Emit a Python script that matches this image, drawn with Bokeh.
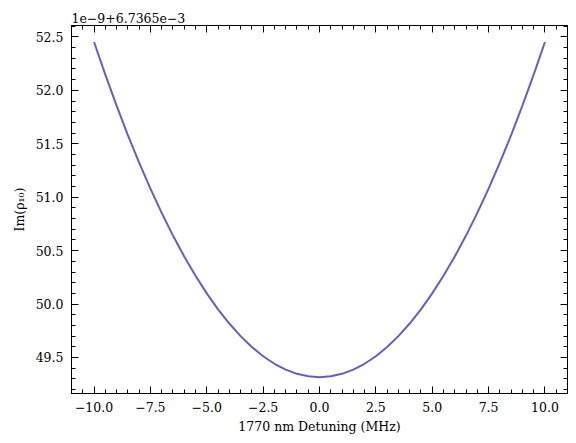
from bokeh.plotting import figure
from bokeh.models import (LinearAxis, SingleIntervalTicker, CustomJSTickFormatter,
                          Range1d, ColumnDataSource)
from bokeh.embed import file_html
from bokeh.resources import INLINE

# Data; y is shown relative to offset 6.7365e-3, in units of 1e-9
detuning = [-10.0, -9.5, -9.0, -8.5, -8.0, -7.5, -7.0, -6.5, -6.0, -5.5, -5.0,
            -4.5, -4.0, -3.5, -3.0, -2.5, -2.0, -1.5, -1.0, -0.5, 0.0,
            0.5, 1.0, 1.5, 2.0, 2.5, 3.0, 3.5, 4.0, 4.5, 5.0,
            5.5, 6.0, 6.5, 7.0, 7.5, 8.0, 8.5, 9.0, 9.5, 10.0]
im_rho10 = [52.453, 52.147, 51.857, 51.582, 51.324, 51.081, 50.853, 50.641, 50.445, 50.265, 50.100,
            49.951, 49.818, 49.700, 49.598, 49.512, 49.441, 49.387, 49.347, 49.324, 49.316,
            49.324, 49.347, 49.387, 49.441, 49.512, 49.598, 49.700, 49.818, 49.951, 50.100,
            50.265, 50.445, 50.641, 50.853, 51.081, 51.324, 51.582, 51.857, 52.147, 52.453]
offset_text = "1e\u22129+6.7365e\u22123"
x_label = "1770 nm Detuning (MHz)"
y_label = "Im(\u03c1\u2081\u2080)"

FONT = "DejaVu Serif"
FS = "12.5px"

p = figure(width=576, height=443, output_backend="svg", toolbar_location=None,
           x_range=Range1d(-11, 11), y_range=Range1d(49.163, 52.607),
           x_axis_location=None, y_axis_location=None,
           min_border_left=71, min_border_right=9, min_border_top=25, min_border_bottom=50)
p.xgrid.visible = False
p.ygrid.visible = False
p.outline_line_color = "black"
p.outline_line_width = 1
p.background_fill_color = "white"
p.border_fill_color = "white"

p.title.text = offset_text
p.title.align = "left"
p.title.text_font = FONT
p.title.text_font_size = FS
p.title.text_font_style = "normal"
p.title.text_color = "black"
p.title.standoff = 5
p.title.offset = 0

src = ColumnDataSource(dict(x=detuning, y=im_rho10))
p.line("x", "y", source=src, line_color="#6a5acd", line_width=2)

fmt = CustomJSTickFormatter(code="return tick.toFixed(1).replace('-', '\\u2212');")
blank = CustomJSTickFormatter(code="return '';")

def style(ax):
    ax.major_tick_in = 7
    ax.major_tick_out = 0
    ax.minor_tick_in = 4
    ax.minor_tick_out = 0
    ax.axis_line_color = "black"
    ax.major_tick_line_color = "black"
    ax.minor_tick_line_color = "black"
    ax.major_label_text_font = FONT
    ax.major_label_text_font_size = FS
    ax.major_label_text_color = "black"
    ax.axis_label_text_font = FONT
    ax.axis_label_text_font_size = FS
    ax.axis_label_text_font_style = "normal"
    ax.axis_label_text_color = "black"

xt = lambda: SingleIntervalTicker(interval=2.5, num_minor_ticks=5)
yt = lambda: SingleIntervalTicker(interval=0.5, num_minor_ticks=5)

bottom = LinearAxis(ticker=xt(), formatter=fmt, axis_label=x_label)
style(bottom)
bottom.major_label_standoff = 8
bottom.axis_label_standoff = 4
p.add_layout(bottom, "below")

left = LinearAxis(ticker=yt(), formatter=fmt, axis_label=y_label)
style(left)
left.major_label_standoff = 8
left.axis_label_standoff = 6
p.add_layout(left, "left")

top = LinearAxis(ticker=xt(), formatter=blank)
style(top)
top.major_label_standoff = 0
p.add_layout(top, "above")

right = LinearAxis(ticker=yt(), formatter=blank)
style(right)
right.major_label_standoff = 0
p.add_layout(right, "right")

open("out.html", "w").write(file_html(p, INLINE))
